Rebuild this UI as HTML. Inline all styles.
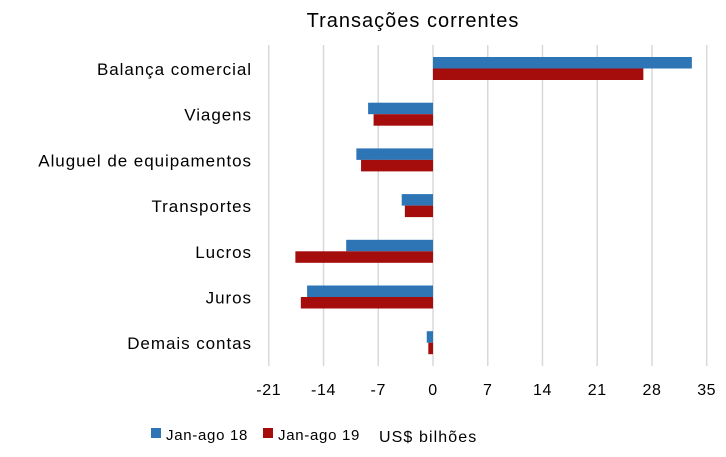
<!DOCTYPE html>
<html><head><meta charset="utf-8"><style>
body{margin:0;background:#fff;font-family:"Liberation Sans",sans-serif}
svg text{font-family:"Liberation Sans",sans-serif;fill:#000}
</style></head><body>
<svg width="726" height="452">
<text x="413" y="27" font-size="20" letter-spacing="1" text-anchor="middle">Transações correntes</text>
<g id="grid"></g><g id="bars"></g><g id="labels"></g><g id="ticks"></g>
<g>
<rect x="151" y="428" width="10" height="10" fill="#2e75b6"/>
<text x="166" y="440" font-size="15" letter-spacing="0.7">Jan-ago 18</text>
<rect x="263" y="428" width="10" height="10" fill="#a50d0d"/>
<text x="278" y="440" font-size="15" letter-spacing="0.7">Jan-ago 19</text>
<text x="379" y="442" font-size="16" letter-spacing="1.1">US$ bilhões</text>
</g>
</svg>
<script>
const categories=["Balança comercial","Viagens","Aluguel de equipamentos","Transportes","Lucros","Juros","Demais contas"];
const series18=[33.1,-8.3,-9.8,-4.0,-11.1,-16.1,-0.8];
const series19=[26.9,-7.6,-9.2,-3.6,-17.6,-16.9,-0.6];
const tickValues=[-21,-14,-7,0,7,14,21,28,35];
const NS="http://www.w3.org/2000/svg";
const x0=433,scale=7.82;
function xs(v){return x0+v*scale;}
function yc(i){return 69+i*45.7;}
function mk(tag,attrs,parent,txt){const e=document.createElementNS(NS,tag);for(const k in attrs)e.setAttribute(k,attrs[k]);if(txt!==undefined)e.textContent=txt;document.getElementById(parent).appendChild(e);return e;}
tickValues.forEach(t=>{
 const g=mk('line',{x1:xs(t),x2:xs(t),y1:45,y2:366,stroke:'#d9d9d9','stroke-width':1.5},'grid');
 
 
 const l=mk('text',{x:xs(t),y:395,'font-size':16,'letter-spacing':0.6,'text-anchor':'middle'},'ticks',String(t));
 
 
});
categories.forEach((c,i)=>{
 const y=yc(i);
 const a=series18[i],b=series19[i];
 const r1=mk('rect',{x:Math.min(xs(0),xs(a)),y:y-12,width:Math.abs(xs(a)-xs(0)),height:11.5,fill:'#2e75b6'},'bars');
 
 
 const r2=mk('rect',{x:Math.min(xs(0),xs(b)),y:y-0.5,width:Math.abs(xs(b)-xs(0)),height:11.5,fill:'#a50d0d'},'bars');
 
 
 const t=mk('text',{x:252,y:y+6,'font-size':17,'letter-spacing':0.95,'text-anchor':'end'},'labels',c);
 
 
});
</script>
</body></html>
